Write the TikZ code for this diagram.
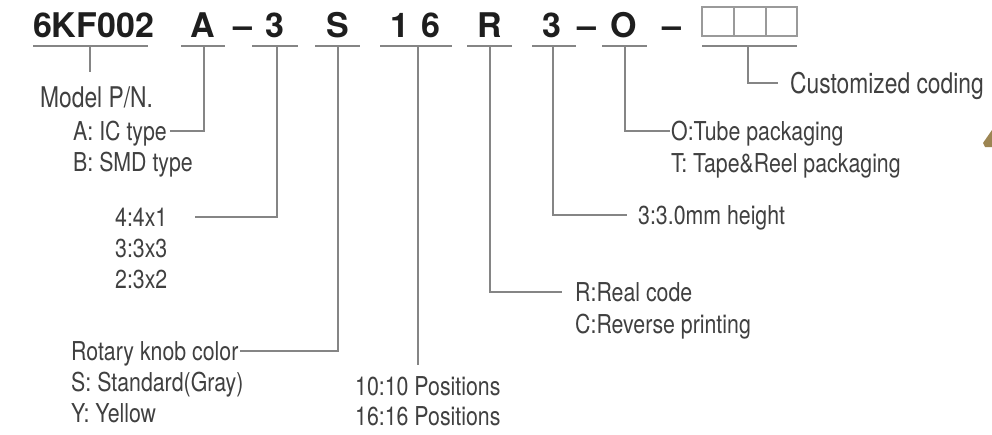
\documentclass[tikz,border=0pt]{standalone}
\usepackage{fontspec}
\setmainfont{TeX Gyre Heros}
\newfontfamily\condfont[FakeStretch=0.82]{TeX Gyre Heros}
\newfontfamily\bigcondfont[FakeStretch=0.80]{TeX Gyre Heros}
\definecolor{titlecol}{HTML}{1E1E1E}
\definecolor{desccol}{HTML}{404040}
\definecolor{linecol}{HTML}{858585}
\definecolor{boxcol}{HTML}{9A9A9A}
\definecolor{blobcol}{HTML}{9C8552}
\begin{document}
\begin{tikzpicture}[x=1pt,y=-1pt,
  codechar/.style={font=\fontsize{34}{36}\selectfont\bfseries, text=titlecol, inner sep=0pt, anchor=base},
  desc/.style={font=\condfont\fontsize{26}{30}\selectfont, text=desccol, inner sep=0pt, text height=18.5pt, text depth=0pt, anchor=west},
  bigdesc/.style={font=\bigcondfont\fontsize{28.5}{32}\selectfont, text=desccol, inner sep=0pt, text height=20.5pt, text depth=0pt, anchor=west},
  uline/.style={draw=linecol, line width=1.2pt},
  conn/.style={draw=linecol, line width=1.05pt},
  codebox/.style={draw=boxcol, line width=1.1pt}]
\useasboundingbox (0,0) rectangle (992,434);
\fill[white] (0,0) rectangle (992,434);

% ---- code characters
\node[codechar] (k1) at (93.5,37) {6KF002};
\node[codechar] (kA) at (203,37) {A};
\node[codechar] (kd1) at (242.5,37) {--};
\node[codechar] (k3) at (275,37) {3};
\node[codechar] (kS) at (337.5,37) {S};
\node[codechar] (k16) at (415.5,37) {1\hspace{12pt}6};
\node[codechar] (kR) at (490,37) {R};
\node[codechar] (k3b) at (552,37) {3};
\node[codechar] (kd2) at (586.5,37) {--};
\node[codechar] (kO) at (623.5,37) {O};
\node[codechar] (kd3) at (672,37) {--};
\draw[codebox] (702,7) rectangle (734,36);
\draw[codebox] (734,7) rectangle (766,36);
\draw[codebox] (766,7) rectangle (797,36);

% ---- underline anchors
\coordinate (c1) at (90,46);
\coordinate (cA) at (204,46);
\coordinate (c3) at (277,46);
\coordinate (cS) at (338,46);
\coordinate (c16) at (418,46);
\coordinate (cR) at (490,46);
\coordinate (c3b) at (553,46);
\coordinate (cO) at (625,46);
\coordinate (cB) at (748,46);

\draw[uline] (33,46) -- (148,46);
\draw[uline] (181,46) -- (225,46);
\draw[uline] (252,46) -- (298,46);
\draw[uline] (315,46) -- (360,46);
\draw[uline] (380,46) -- (452,46);
\draw[uline] (467,46) -- (512,46);
\draw[uline] (532,46) -- (576,46);
\draw[uline] (602,46) -- (647,46);
\draw[uline] (702,46) -- (797,46);

% ---- descriptions
\node[bigdesc] (tM) at (40,97) {Model P/N.};
\node[desc] (tA) at (73,131) {A: IC type};
\node[desc] (tB) at (73,162) {B: SMD type};
\node[desc] (t4) at (115,217) {4:4x1};
\node[desc] (t3) at (115,248) {3:3x3};
\node[desc] (t2) at (115,279) {2:3x2};
\node[desc] (tRot) at (71,351) {Rotary knob color};
\node[desc] (tSt) at (71,382) {S: Standard(Gray)};
\node[desc] (tY) at (71,413) {Y: Yellow};
\node[desc] (t10) at (355,386) {10:10 Positions};
\node[desc] (t1616) at (355,416) {16:16 Positions};
\node[desc] (tRR) at (575,292) {R:Real code};
\node[desc] (tRC) at (575,324) {C:Reverse printing};
\node[desc] (tH) at (638,215) {3:3.0mm height};
\node[desc] (tO) at (671,131) {O:Tube packaging};
\node[desc] (tT) at (671,163) {T: Tape\&Reel packaging};
\node[bigdesc] (tC) at (790,83) {Customized coding};

% ---- connectors
\coordinate (e1) at (90,72);
\coordinate (e16) at (418,365);
\draw[conn] (c1) -- (e1);
\draw[conn] (cA) |- ([xshift=3pt]tA.east);
\draw[conn] (c3) |- ([xshift=27pt]t4.east);
\draw[conn] (cS) |- ([xshift=1pt]tRot.east);
\draw[conn] (c16) -- (e16);
\draw[conn] (cR) |- ([xshift=-13pt]tRR.west);
\draw[conn] (c3b) |- ([xshift=-11pt]tH.west);
\draw[conn] (cO) |- ([xshift=-1pt]tO.west);
\draw[conn] (cB) |- ([xshift=-12pt]tC.west);

% ---- photo fragment at right edge
\fill[blobcol] (992,130) -- (983,143) -- (985,147) -- (992,147) -- cycle;
\end{tikzpicture}
\end{document}
